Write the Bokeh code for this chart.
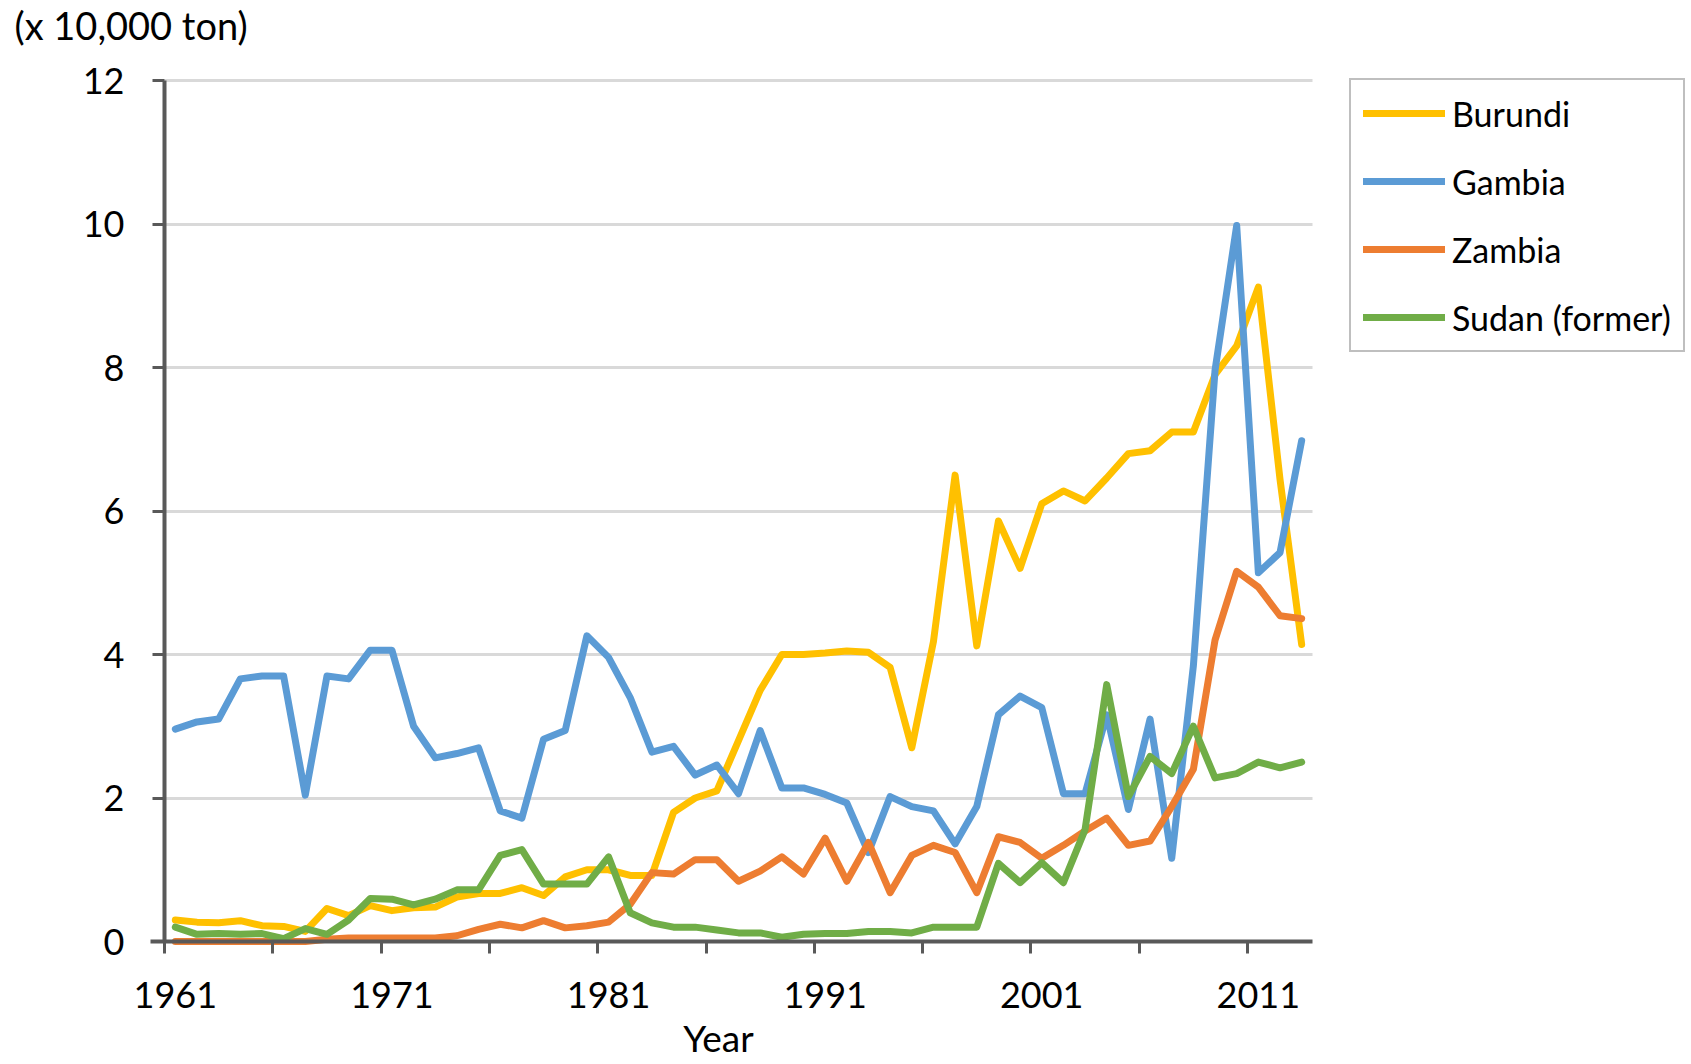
from bokeh.plotting import figure
from bokeh.models import Range1d, FixedTicker, Legend, LegendItem, Label
from bokeh.embed import file_html
from bokeh.resources import INLINE

years = list(range(1961, 2014))

burundi = [0.30, 0.27, 0.26, 0.29, 0.22, 0.21, 0.14, 0.46, 0.36, 0.50,
           0.43, 0.47, 0.48, 0.62, 0.67, 0.67, 0.75, 0.64, 0.90, 1.00,
           1.00, 0.92, 0.92, 1.80, 2.00, 2.10, 2.80, 3.50, 4.00, 4.00,
           4.02, 4.05, 4.03, 3.82, 2.70, 4.18, 6.50, 4.12, 5.86, 5.20,
           6.10, 6.28, 6.14, 6.46, 6.80, 6.84, 7.10, 7.10, 7.90, 8.30,
           9.12, 6.44, 4.14]
gambia = [2.96, 3.06, 3.10, 3.66, 3.70, 3.70, 2.04, 3.70, 3.66, 4.06,
          4.06, 3.00, 2.56, 2.62, 2.70, 1.82, 1.72, 2.82, 2.94, 4.26,
          3.96, 3.40, 2.64, 2.72, 2.32, 2.46, 2.06, 2.94, 2.14, 2.14,
          2.05, 1.93, 1.24, 2.02, 1.88, 1.82, 1.36, 1.88, 3.16, 3.42,
          3.26, 2.06, 2.06, 3.16, 1.84, 3.10, 1.16, 3.84, 7.96, 9.98,
          5.14, 5.42, 6.98]
zambia = [0.00, 0.00, 0.00, 0.00, 0.00, 0.00, 0.00, 0.03, 0.05, 0.05,
          0.05, 0.05, 0.05, 0.08, 0.17, 0.24, 0.19, 0.29, 0.19, 0.22,
          0.27, 0.52, 0.96, 0.94, 1.14, 1.14, 0.84, 0.98, 1.18, 0.94,
          1.44, 0.84, 1.38, 0.68, 1.20, 1.34, 1.24, 0.68, 1.46, 1.38,
          1.16, 1.34, 1.54, 1.72, 1.34, 1.40, 1.88, 2.40, 4.20, 5.16,
          4.94, 4.54, 4.50]
sudan = [0.20, 0.10, 0.11, 0.10, 0.11, 0.04, 0.18, 0.10, 0.30, 0.60,
         0.59, 0.51, 0.59, 0.72, 0.72, 1.20, 1.28, 0.80, 0.80, 0.80,
         1.18, 0.40, 0.26, 0.20, 0.20, 0.16, 0.12, 0.12, 0.06, 0.10,
         0.11, 0.11, 0.14, 0.14, 0.12, 0.20, 0.20, 0.20, 1.09, 0.82,
         1.10, 0.82, 1.56, 3.58, 2.02, 2.58, 2.34, 3.00, 2.28, 2.34,
         2.50, 2.42, 2.50]

series_names = ["Burundi", "Gambia", "Zambia", "Sudan (former)"]
series_values = [burundi, gambia, zambia, sudan]
colors = ["#FFC000", "#5B9BD5", "#ED7D31", "#70AD47"]
x_label_years = [1961, 1971, 1981, 1991, 2001, 2011]
y_ticks = [0, 2, 4, 6, 8, 10, 12]
unit_title = "(x 10,000 ton)"
x_title = "Year"
FONT = "Lato"

# ---- layout (pixels on the canvas) ----
W, H = 1691, 1064
PL, PR, PT, PB = 164, 1312, 80, 941          # plot box
x0, x1 = years[0] - 0.5, years[-1] + 0.5
y0, y1 = y_ticks[0], y_ticks[-1]
ppx = (PR - PL) / (x1 - x0)
ppy = (PB - PT) / (y1 - y0)

p = figure(width=W, height=H, output_backend="svg", toolbar_location=None,
           x_range=Range1d(x0 - PL / ppx, x1 + (W - PR) / ppx),
           y_range=Range1d(y0 - (H - PB) / ppy, y1 + PT / ppy),
           min_border=0)
p.outline_line_color = None
p.background_fill_color = "white"
p.border_fill_color = "white"

renderers = []
for name, vals, c in zip(series_names, series_values, colors):
    r = p.line(years, vals, line_width=7, color=c, line_join="round", line_cap="round")
    renderers.append(r)

AXIS_COLOR = "#595959"

# x axis
xa = p.xaxis[0]
xa.fixed_location = y0
xa.bounds = (x0 - 14 / ppx, x1)
xa.ticker = FixedTicker(ticks=x_label_years, minor_ticks=[y - 0.5 for y in years[::5]])
xa.major_tick_line_color = None
xa.minor_tick_line_color = AXIS_COLOR
xa.minor_tick_line_width = 3
xa.minor_tick_out = 12
xa.minor_tick_in = 0
xa.axis_line_color = AXIS_COLOR
xa.axis_line_width = 4
xa.major_label_text_font = FONT
xa.major_label_text_font_size = "36px"
xa.major_label_text_color = "black"
xa.major_label_standoff = 28

# y axis
ya = p.yaxis[0]
ya.fixed_location = x0
ya.bounds = (y0, y1)
ya.ticker = FixedTicker(ticks=y_ticks)
ya.minor_tick_line_color = None
ya.major_tick_line_color = AXIS_COLOR
ya.major_tick_line_width = 3
ya.major_tick_out = 12
ya.major_tick_in = 0
ya.axis_line_color = AXIS_COLOR
ya.axis_line_width = 4
ya.major_label_text_font = FONT
ya.major_label_text_font_size = "36px"
ya.major_label_text_color = "black"
ya.major_label_standoff = 28

p.xgrid.visible = False
p.ygrid.ticker = FixedTicker(ticks=y_ticks[1:])
p.ygrid.cross_bounds = (x0, x1)
p.ygrid.grid_line_color = "#d9d9d9"
p.ygrid.grid_line_width = 3

# unit title (top left) and x axis title
p.add_layout(Label(x=14, y=H - 24, x_units="screen", y_units="screen", text=unit_title,
                   text_font=FONT, text_font_size="38px", text_color="black",
                   text_baseline="alphabetic", text_align="left"))
p.add_layout(Label(x=718, y=H - 1037, x_units="screen", y_units="screen", text=x_title,
                   text_font=FONT, text_font_size="37px", text_color="black",
                   text_baseline="alphabetic", text_align="center"))

# legend
legend = Legend(items=[LegendItem(label=n, renderers=[r]) for n, r in zip(series_names, renderers)],
                location=(1349, H - 352))
legend.label_text_font = FONT
legend.label_text_font_size = "34px"
legend.label_text_color = "black"
legend.border_line_color = "#7f7f7f"
legend.border_line_width = 2
legend.padding = 12
legend.spacing = 26
legend.label_height = 42
legend.glyph_height = 42
legend.glyph_width = 82
legend.label_standoff = 7
legend.margin = 0
legend.background_fill_alpha = 1
p.add_layout(legend, "center")

open("out.html", "w").write(file_html(p, INLINE))
